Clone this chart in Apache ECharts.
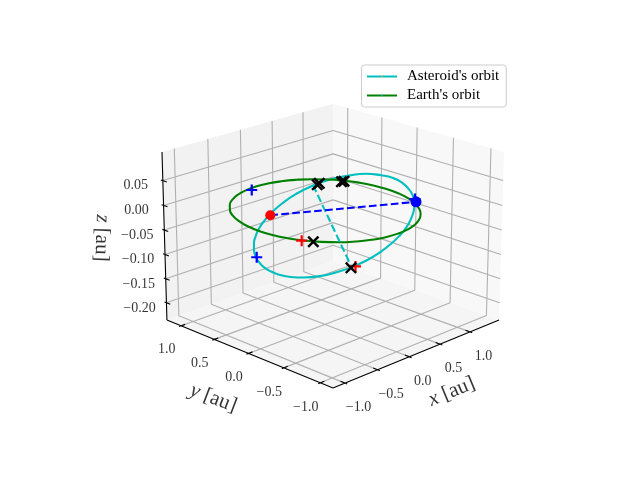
<!DOCTYPE html>
<html><head><meta charset="utf-8">
<script src="https://cdn.jsdelivr.net/npm/echarts@6/dist/echarts.min.js"></script>
<style>html,body{margin:0;padding:0;background:#fff}#c{width:640px;height:480px}</style></head>
<body><div id="c"></div>
<script>
var xLim=[-1.18,1.5], yLim=[-1.17,1.22], zLim=[-0.236,0.107];
var xTicks=[-1,-0.5,0,0.5,1], yTicks=[-1,-0.5,0,0.5,1], zTicks=[-0.2,-0.15,-0.1,-0.05,0,0.05];
var seriesNames=["Asteroid's orbit","Earth's orbit"];
var asteroidX=[1.380,1.404,1.395,1.345,1.250,1.115,0.950,0.772,0.592,0.421,0.263,0.118,-0.013,-0.132,-0.240,-0.336,-0.419,-0.488,-0.538,-0.562,-0.553,-0.503,-0.408,-0.273,-0.108,0.070,0.250,0.421,0.580,0.724,0.856,0.975,1.082,1.178,1.261,1.330];
var asteroidY=[0.253,0.426,0.608,0.787,0.949,1.080,1.170,1.216,1.224,1.200,1.152,1.086,1.006,0.913,0.808,0.690,0.559,0.413,0.253,0.080,-0.101,-0.280,-0.443,-0.574,-0.664,-0.710,-0.718,-0.694,-0.646,-0.580,-0.500,-0.406,-0.301,-0.184,-0.053,0.093];
var asteroidZ=[-0.144,-0.171,-0.197,-0.219,-0.235,-0.244,-0.244,-0.237,-0.224,-0.207,-0.188,-0.167,-0.145,-0.122,-0.098,-0.074,-0.048,-0.022,0.005,0.032,0.058,0.080,0.096,0.104,0.105,0.097,0.085,0.068,0.048,0.028,0.006,-0.017,-0.041,-0.065,-0.091,-0.117];
var earthX=[1,0.985,0.940,0.866,0.766,0.643,0.5,0.342,0.174,0,-0.174,-0.342,-0.5,-0.643,-0.766,-0.866,-0.940,-0.985,-1,-0.985,-0.940,-0.866,-0.766,-0.643,-0.5,-0.342,-0.174,0,0.174,0.342,0.5,0.643,0.766,0.866,0.940,0.985];
var earthY=[0,0.174,0.342,0.5,0.643,0.766,0.866,0.940,0.985,1,0.985,0.940,0.866,0.766,0.643,0.5,0.342,0.174,0,-0.174,-0.342,-0.5,-0.643,-0.766,-0.866,-0.940,-0.985,-1,-0.985,-0.940,-0.866,-0.766,-0.643,-0.5,-0.342,-0.174];
var earthZ=[0,0,0,0,0,0,0,0,0,0,0,0,0,0,0,0,0,0,0,0,0,0,0,0,0,0,0,0,0,0,0,0,0,0,0,0];
var bluePlusX=[0.023,0.843,-0.116], bluePlusY=[1.023,-0.524,0.950], bluePlusZ=[-0.150,0.010,0];
var redPlusX=[1.372,-0.888], redPlusY=[0.764,-0.488], redPlusZ=[-0.218,0];
var crossX=[-0.822,0.547,0.599,0.819,0.853,1.343], crossY=[-0.586,0.599,0.616,0.489,0.482,0.807], crossZ=[0,0,0,0,0,-0.222];
var nodeLineX=[-0.506,0.907], nodeLineY=[0.307,-0.486], nodeLineZ=[-0.005,0];
var apsisLineX=[-0.508,1.361], apsisLineY=[-0.299,0.807], apsisLineZ=[0.083,-0.223];

var EL=20*Math.PI/180,AZ=-135*Math.PI/180,D=10,S=2085,CX=333,CY=237.2,B=[1.1429,1.1429,0.8572];
function project(x,y,z){
 var r=[((x-xLim[0])/(xLim[1]-xLim[0])-.5)*B[0],((y-yLim[0])/(yLim[1]-yLim[0])-.5)*B[1],((z-zLim[0])/(zLim[1]-zLim[0])-.5)*B[2]];
 var n=[Math.cos(EL)*Math.cos(AZ),Math.cos(EL)*Math.sin(AZ),Math.sin(EL)];
 var u=[-Math.sin(AZ),Math.cos(AZ),0];
 var v=[-Math.sin(EL)*Math.cos(AZ),-Math.sin(EL)*Math.sin(AZ),Math.cos(EL)];
 var w=D-(n[0]*r[0]+n[1]*r[1]+n[2]*r[2]);
 return [CX+S*(u[0]*r[0]+u[1]*r[1])/w, CY-S*(v[0]*r[0]+v[1]*r[1]+v[2]*r[2])/w];
}
function P(a){return project(a[0],a[1],a[2])}
function zip(X,Y,Z){return X.map(function(v,i){return [v,Y[i],Z[i]]})}
function seg(list){var o=[];list.forEach(function(l){l.forEach(function(q){o.push(P(q))});o.push([null,null])});return o}
var A=zip(asteroidX,asteroidY,asteroidZ), E=zip(earthX,earthY,earthZ);
var gl=[];
xTicks.forEach(function(t){gl.push([[t,yLim[0],zLim[0]],[t,yLim[1],zLim[0]],[t,yLim[1],zLim[1]]])});
yTicks.forEach(function(t){gl.push([[xLim[0],t,zLim[0]],[xLim[1],t,zLim[0]],[xLim[1],t,zLim[1]]])});
zTicks.forEach(function(t){gl.push([[xLim[0],yLim[1],t],[xLim[1],yLim[1],t],[xLim[1],yLim[0],t]])});
var panes=[
 {c:'#f2f2f2',p:[[xLim[0],yLim[1],zLim[0]],[xLim[1],yLim[1],zLim[0]],[xLim[1],yLim[1],zLim[1]],[xLim[0],yLim[1],zLim[1]]]},
 {c:'#f8f8f8',p:[[xLim[1],yLim[0],zLim[0]],[xLim[1],yLim[1],zLim[0]],[xLim[1],yLim[1],zLim[1]],[xLim[1],yLim[0],zLim[1]]]},
 {c:'#f5f5f5',p:[[xLim[0],yLim[0],zLim[0]],[xLim[1],yLim[0],zLim[0]],[xLim[1],yLim[1],zLim[0]],[xLim[0],yLim[1],zLim[0]]]}];
var zi=1;
function line(data,color,w,type,name,sm){return {type:'line',z:zi++,name:name,data:data,smooth:sm||false,showSymbol:false,symbol:'none',silent:true,animation:false,clip:false,connectNulls:false,lineStyle:{color:color,width:w,type:type||'solid',cap:'butt'},emphasis:{disabled:true}}}
var PLUS='path://M4,0H6V4H10V6H6V10H4V6H0V4H4Z';
var CROSS='path://M1.4,0L5,3.6L8.6,0L10,1.4L6.4,5L10,8.6L8.6,10L5,6.4L1.4,10L0,8.6L3.6,5L0,1.4Z';
function pts(a,sym,size,color){return {type:'scatter',z:zi++,data:a.map(P),symbol:sym,symbolSize:size,silent:true,animation:false,clip:false,itemStyle:{color:color,opacity:1}}}
var F='"Liberation Serif",serif';
function labels(a){return {type:'scatter',z:zi++,data:a.map(function(l){return {value:l.p,label:{formatter:l.t,rotate:l.r||0}}}),symbolSize:0,silent:true,animation:false,clip:false,label:{show:true,position:'inside',color:'#000',fontFamily:F,fontSize:14,align:'center',verticalAlign:'middle',rich:{i:{fontStyle:'italic',fontFamily:F,fontSize:21,color:'#000'},n:{fontFamily:F,fontSize:21,color:'#000'}}}}}
function tf(t,d){return (t<0?'\u2212':'')+Math.abs(t).toFixed(d)}
var tl=[];
xTicks.forEach(function(t){var p=project(t,yLim[0],zLim[0]);tl.push({p:[p[0]+13.5,p[1]+24.5],t:tf(t,1)})});
yTicks.forEach(function(t){var p=project(xLim[0],t,zLim[0]);tl.push({p:[p[0]-14.5,p[1]+24],t:tf(t,1)})});
zTicks.forEach(function(t){var p=project(xLim[0],yLim[1],t);tl.push({p:[p[0]-27,p[1]+5.2],t:tf(t,2)})});
tl.push({p:[451.7,391.7],t:'{i|x}{n| [au]}',r:22.5});
tl.push({p:[213.3,398.3],t:'{i|y}{n| [au]}',r:-21});
tl.push({p:[101.7,238],t:'{i|z}{n| [au]}',r:-92});
var tk=[];var tx=.03,ty=.03;
xTicks.forEach(function(t){tk.push([[t,yLim[0]-ty,zLim[0]],[t,yLim[0]+2*ty,zLim[0]]])});
yTicks.forEach(function(t){tk.push([[xLim[0]-tx,t,zLim[0]],[xLim[0]+2*tx,t,zLim[0]]])});
zTicks.forEach(function(t){tk.push([[xLim[0],yLim[1]+ty,t],[xLim[0],yLim[1]-2*ty,t]])});
var ch=echarts.init(document.getElementById('c'),null,{renderer:'canvas'});
var bp=zip(bluePlusX,bluePlusY,bluePlusZ), rp=zip(redPlusX,redPlusY,redPlusZ), cr=zip(crossX,crossY,crossZ), nl=zip(nodeLineX,nodeLineY,nodeLineZ), al=zip(apsisLineX,apsisLineY,apsisLineZ);
var series=[
 {type:'custom',z:zi++,silent:true,animation:false,clip:false,data:panes.map(function(p,i){return [i]}),renderItem:function(ps,api){var q=panes[api.value(0)];return {type:'polygon',shape:{points:q.p.map(function(k){return api.coord(P(k))})},style:{fill:q.c}}}},
 line(seg(gl),'#b0b0b0',1.1),
 line(seg([[[xLim[0],yLim[0],zLim[0]],[xLim[1],yLim[0],zLim[0]]],[[xLim[0],yLim[0],zLim[0]],[xLim[0],yLim[1],zLim[0]]],[[xLim[0],yLim[1],zLim[0]],[xLim[0],yLim[1],zLim[1]]]].concat(tk)),'#000',1.1),
 line(A.concat([A[0]]).map(P),'#00bfbf',2.1,'solid',seriesNames[0],true),
 line(E.concat([E[0]]).map(P),'#008000',2.1,'solid',seriesNames[1],true),
 line(al.map(P),'#00bfbf',2.1,[7.7,3.3]),
 line(nl.map(P),'#0000ff',2.1,[7.7,3.3]),
 pts(bp,PLUS,11,'#0000ff'),
 pts(rp,PLUS,11,'#ff0000'),
 pts([nl[0]],'circle',10,'#ff0000'),
 pts([nl[1]],'circle',11,'#0000ff'),
 pts(cr,CROSS,12,'#000'),
 labels(tl)
];
ch.setOption({animation:false,
 grid:{left:0,right:0,top:0,bottom:0},
 xAxis:{type:'value',min:0,max:640,show:false},
 yAxis:{type:'value',min:0,max:480,inverse:true,show:false},
 legend:{left:361.5,top:65,orient:'vertical',itemWidth:30,itemHeight:2,itemGap:4,padding:[4,7,4,4.5],borderColor:'#ccc',borderWidth:1,borderRadius:3,backgroundColor:'rgba(255,255,255,.8)',textStyle:{fontFamily:F,fontSize:15,color:'#000',padding:[0,0,0,5]},data:seriesNames},
 series:series});
</script></body></html>
